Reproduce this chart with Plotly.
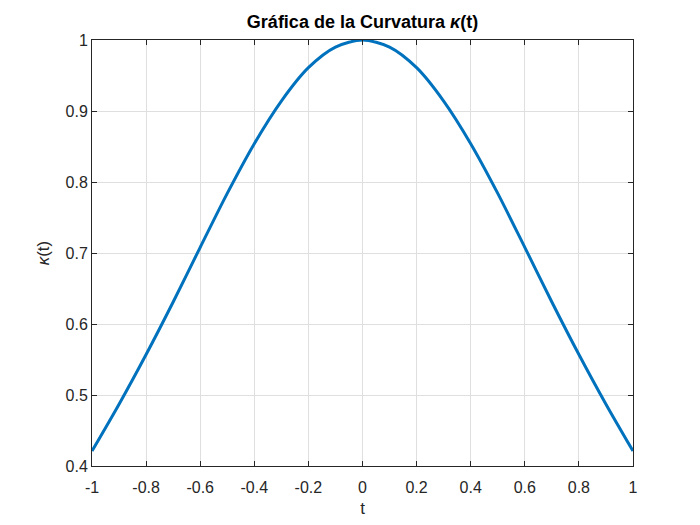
import plotly.graph_objects as go

# curvature values
t_vals = [-1.0, -0.9, -0.8, -0.7, -0.6, -0.5, -0.4, -0.3, -0.2, -0.1, 0.0,
          0.1, 0.2, 0.3, 0.4, 0.5, 0.6, 0.7, 0.8, 0.9, 1.0]
kappa_vals = [0.421, 0.487, 0.557, 0.631, 0.708, 0.784, 0.854, 0.914, 0.961, 0.990, 1.000,
              0.990, 0.961, 0.914, 0.854, 0.784, 0.708, 0.631, 0.557, 0.487, 0.421]

x_ticks = [-1, -0.8, -0.6, -0.4, -0.2, 0, 0.2, 0.4, 0.6, 0.8, 1]
x_tick_text = ["-1", "-0.8", "-0.6", "-0.4", "-0.2", "0", "0.2", "0.4", "0.6", "0.8", "1"]
y_ticks = [0.4, 0.5, 0.6, 0.7, 0.8, 0.9, 1]
y_tick_text = ["0.4", "0.5", "0.6", "0.7", "0.8", "0.9", "1"]

font_name = "Liberation Sans, Arial"

fig = go.Figure()

fig.add_trace(go.Scatter(
    x=t_vals,
    y=kappa_vals,
    mode="lines",
    line=dict(color="#0072BD", width=3, shape="spline", smoothing=0.8),
    showlegend=False
))

axis_style = dict(
    showline=True,
    linecolor="#262626",
    linewidth=1,
    mirror="ticks",
    ticks="inside",
    ticklen=5,
    tickcolor="#262626",
    showgrid=True,
    gridcolor="#dfdfdf",
    gridwidth=1,
    zeroline=False,
    tickfont=dict(family=font_name, size=16, color="#262626"),
)

fig.update_xaxes(
    range=[-1, 1],
    tickvals=x_ticks,
    ticktext=x_tick_text,
    ticklabelstandoff=7,
    title=dict(text="t", font=dict(family=font_name, size=17, color="#262626"), standoff=6),
    **axis_style
)
fig.update_yaxes(
    range=[0.4, 1],
    tickvals=y_ticks,
    ticktext=y_tick_text,
    title=dict(text="<i>κ</i>(t)", font=dict(family=font_name, size=17, color="#262626"), standoff=11),
    **axis_style
)

fig.update_layout(
    title=dict(
        text="<b>Gráfica de la Curvatura <i>κ</i>(t)</b>",
        x=354.5 / 700,
        xanchor="center",
        y=1 - 14 / 525,
        yanchor="middle",
        font=dict(family=font_name, size=18, color="black"),
    ),
    width=700,
    height=525,
    margin=dict(l=84, r=75, t=32, b=67),
    paper_bgcolor="white",
    plot_bgcolor="white",
)

fig.write_html("out.html")
